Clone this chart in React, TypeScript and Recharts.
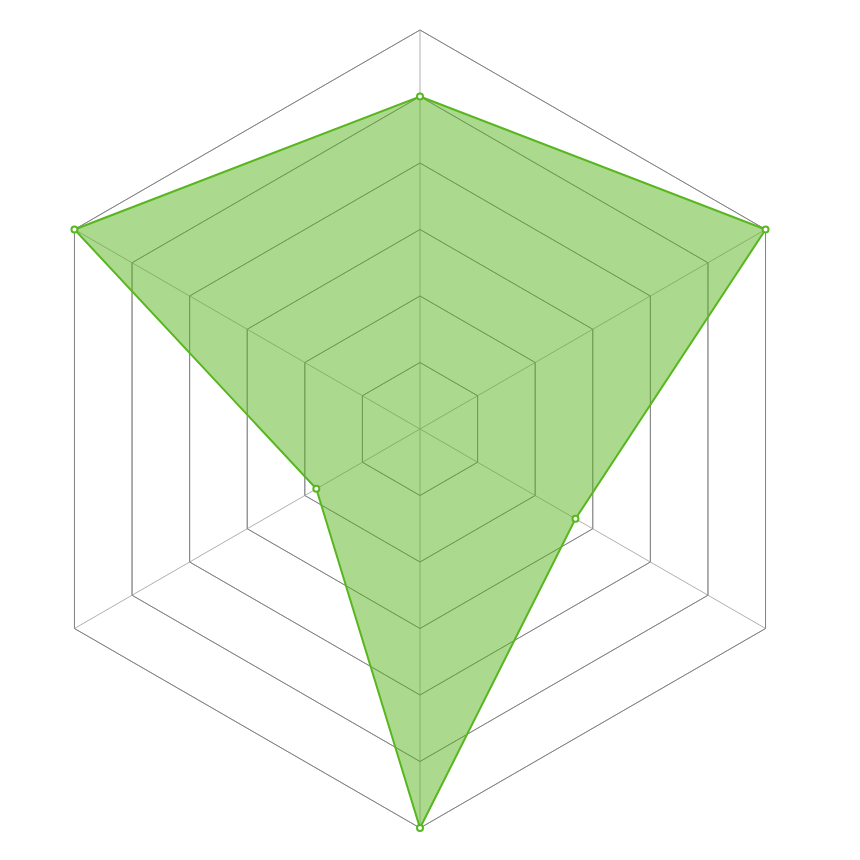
import { RadarChart, Radar, PolarGrid, PolarAngleAxis, PolarRadiusAxis } from 'recharts'

// six spokes, clockwise from the top
const axes = ['A', 'B', 'C', 'D', 'E', 'F']
const values = [5, 6, 2.7, 6, 1.8, 6]
const radiusTicks = [0, 1, 2, 3, 4, 5, 6]

const data = axes.map((name, i) => ({ name, value: values[i] }))

export default function App() {
  return (
    <RadarChart
      width={852}
      height={852}
      cx={412}
      cy={421}
      outerRadius={399}
      data={data}
      margin={{ top: 0, right: 0, bottom: 0, left: 0 }}
    >
      {/* light spokes + rings, then darker rings on top */}
      <PolarGrid stroke="#b0b0b0" strokeWidth={1} />
      <PolarGrid stroke="#848484" strokeWidth={1} radialLines={false} />
      <PolarAngleAxis dataKey="name" tick={false} axisLine={false} tickLine={false} />
      <PolarRadiusAxis
        domain={[0, 6]}
        ticks={radiusTicks as any}
        tickCount={7}
        tick={false}
        axisLine={false}
        tickLine={false}
      />
      <Radar
        dataKey="value"
        stroke="#58b61f"
        strokeWidth={2}
        fill="#58b61f"
        fillOpacity={0.5}
        dot={{ r: 3, fill: '#ffffff', stroke: '#58b61f', strokeWidth: 2, fillOpacity: 1 }}
        isAnimationActive={false}
      />
    </RadarChart>
  )
}
